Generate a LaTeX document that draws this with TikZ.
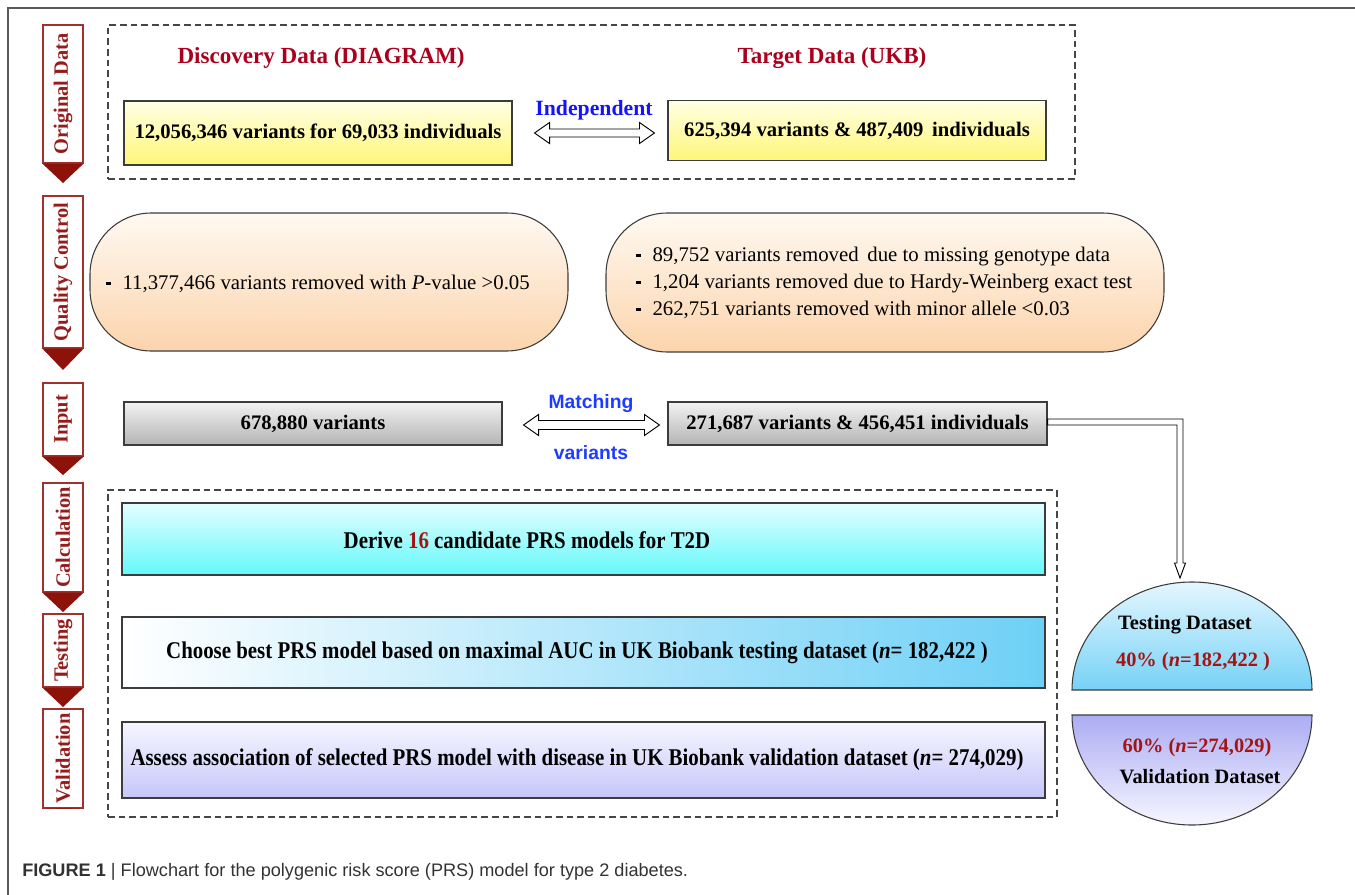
\documentclass[tikz,border=0pt]{standalone}
\usepackage{fontspec}
\setmainfont{Liberation Serif}
\newfontfamily\condfont{Liberation Serif}[FakeStretch=0.87]
\newfontfamily\capfont{Liberation Sans}
\newfontfamily\sanbold{Liberation Sans}
\usetikzlibrary{calc}
\definecolor{hdred}{RGB}{170,0,30}
\definecolor{sidered}{RGB}{140,18,10}
\definecolor{sideedge}{RGB}{160,50,45}
\definecolor{sidetxt}{RGB}{150,28,28}
\definecolor{indblue}{RGB}{20,20,250}
\definecolor{matchblue}{RGB}{30,60,255}
\definecolor{numred}{RGB}{165,20,20}
\definecolor{framegray}{RGB}{90,90,90}
\definecolor{dashgray}{RGB}{70,70,70}
\definecolor{boxedge}{RGB}{60,60,60}
\definecolor{yellowtop}{RGB}{255,255,228}
\definecolor{yellowbot}{RGB}{255,246,120}
\definecolor{greytop}{RGB}{242,242,242}
\definecolor{greybot}{RGB}{180,180,180}
\definecolor{ovaltop}{RGB}{255,249,242}
\definecolor{ovalbot}{RGB}{252,212,172}
\definecolor{cyantop}{RGB}{228,255,255}
\definecolor{cyanbot}{RGB}{100,248,250}
\definecolor{testblue}{RGB}{110,208,246}
\definecolor{valtop}{RGB}{246,246,255}
\definecolor{valbot}{RGB}{198,198,250}
\definecolor{semitop}{RGB}{228,246,255}
\definecolor{semibot}{RGB}{118,210,246}
\definecolor{vsemitop}{RGB}{172,172,244}
\definecolor{vsemibot}{RGB}{246,246,255}
\definecolor{capgray}{RGB}{50,50,50}
\tikzset{
  sidebox/.style={draw=sideedge, line width=0.9pt, fill=white, minimum width=30pt, inner sep=0pt},
  sidetext/.style={text=sidetxt, font=\bfseries\fontsize{15.3}{18}\selectfont, inner sep=0pt},
  heading/.style={text=hdred, font=\bfseries\fontsize{17.3}{20}\selectfont, inner sep=0pt},
  ybox/.style={draw=boxedge, line width=0.8pt, top color=yellowtop, bottom color=yellowbot, font=\bfseries\fontsize{15.5}{18}\selectfont, inner sep=0pt},
  gbox/.style={draw=boxedge, line width=0.8pt, top color=greytop, bottom color=greybot, font=\bfseries\fontsize{15.5}{18}\selectfont, inner sep=0pt},
  ovalbox/.style={draw=boxedge, line width=0.8pt, rounded corners=46pt, top color=ovaltop, bottom color=ovalbot, inner sep=0pt},
  ovaltext/.style={font=\fontsize{15.6}{20.25}\selectfont, align=left, inner sep=0pt},
  widebox/.style={draw=boxedge, line width=0.8pt, inner sep=0pt},
  widetext/.style={font=\condfont\bfseries\fontsize{18}{20}\selectfont, inner sep=0pt},
  dashbox/.style={draw=dashgray, line width=1.1pt, dash pattern=on 5pt off 3pt},
  hollow/.style={draw=black, line width=0.7pt, fill=white, line join=miter},
  semitext/.style={font=\bfseries\fontsize{15.3}{18}\selectfont, inner sep=0pt},
  bluelab/.style={text=indblue, font=\bfseries\fontsize{16.3}{18}\selectfont, inner sep=0pt},
  matchlab/.style={text=matchblue, font=\sanbold\bfseries\fontsize{14.5}{17}\selectfont, inner sep=0pt},
}
\newcommand{\sidestep}[5]{%
  \node[sidebox, minimum height={(#4-#3)*0.75pt}] (#1) at (63,{(#3+#4)/2}) {};
  \node[sidetext, rotate=90] (#1t) at (#1.center) {#2};
  \fill[sidered] (#1.south west) -- (#1.south east) -- (63,#5) -- cycle;}
\newcommand{\hollowdbl}[3]{% left tip, right tip, shaft half width
  \draw[hollow] (#1) -- ++(15,-10.5) -- ++(0,{10.5-#3}) -- ($(#2)+(-15,-#3)$) -- ++(0,{#3-10.5}) -- (#2)
     -- ++(-15,10.5) -- ++(0,{#3-10.5}) -- ($(#1)+(15,#3)$) -- ++(0,{10.5-#3}) -- cycle;}
\newcommand{\blt}{\rule[0.22em]{3.2pt}{2.4pt}}
\begin{document}
\begin{tikzpicture}[x=0.75pt,y=-0.75pt]
\useasboundingbox (0,0) rectangle (1355,895);
\draw[framegray, line width=0.8pt] (8,900) -- (8,8) -- (1360,8);

% sidebar
\sidestep{sOrig}{Original Data}{25}{163}{183}
\sidestep{sQC}{Quality Control}{196}{348}{370}
\sidestep{sIn}{Input}{383}{456}{475}
\sidestep{sCalc}{Calculation}{483}{592}{612}
\sidestep{sTest}{Testing}{614}{687}{707}
\sidestep{sVal}{Validation}{709}{808}{808}

% original data
\node[dashbox, minimum width={967*0.75pt}, minimum height={154*0.75pt}, inner sep=0pt] (dtop) at (591.5,102) {};
\node[heading] (hDisc) at (321,58) {Discovery Data (DIAGRAM)};
\node[heading] (hTarg) at (832,58) {Target Data (UKB)};
\node[ybox, minimum width={388*0.75pt}, minimum height={64*0.75pt}] (yl) at (318,133) {12,056,346 variants for 69,033 individuals};
\node[ybox, minimum width={378*0.75pt}, minimum height={60*0.75pt}] (yr) at (857,130.5) {625,394 variants \& 487,409\, individuals};
\node[bluelab] (lInd) at (594,110) {Independent};
\coordinate (indL) at ($(yl.east)+(22,0)$);
\coordinate (indR) at ($(indL -| yr.west)+(-13,0)$);
\hollowdbl{indL}{indR}{4}

% quality control
\node[ovalbox, minimum width={478*0.75pt}, minimum height={138*0.75pt}] (qcL) at (329,282) {};
\node[ovaltext, anchor=west] (qcLt) at (106,284) {\begin{tabular}{@{}l@{\hspace{9pt}}l@{}}\blt & 11,377,466 variants removed with \textit{P}-value >0.05\end{tabular}};
\node[ovalbox, minimum width={558*0.75pt}, minimum height={139*0.75pt}] (qcR) at (885,282.5) {};
\node[ovaltext, anchor=west] (qcRt) at (636,283) {\begin{tabular}{@{}l@{\hspace{9pt}}l@{}}\blt & 89,752 variants removed\, due to missing genotype data\\ \blt & 1,204 variants removed due to Hardy-Weinberg exact test\\ \blt & 262,751 variants removed with minor allele <0.03\end{tabular}};

% input
\node[gbox, minimum width={378*0.75pt}, minimum height={43*0.75pt}] (gl) at (313,423.5) {678,880 variants};
\node[gbox, minimum width={379*0.75pt}, minimum height={43*0.75pt}] (gr) at (857.5,423.5) {271,687 variants \& 456,451 individuals};
\node[matchlab] (lMatch) at (591,404) {Matching};
\node[matchlab] (lVar) at (591,453) {variants};
\coordinate (mL) at ($(gl.east)+(21,1.5)$);
\coordinate (mR) at ($(mL -| gr.west)+(-8,0)$);
\hollowdbl{mL}{mR}{4.5}

% calculation / testing / validation
\node[dashbox, minimum width={949*0.75pt}, minimum height={327*0.75pt}, inner sep=0pt] (dcalc) at (582.5,653.5) {};
\node[widebox, top color=cyantop, bottom color=cyanbot, minimum width={923*0.75pt}, minimum height={72*0.75pt}] (calc) at (583.5,539) {};
\node[widetext] (calct) at (527,540) {Derive {\color{numred}16} candidate PRS models for T2D};
\node[widebox, left color=white, right color=testblue, minimum width={923*0.75pt}, minimum height={71*0.75pt}] (test) at (583.5,652.5) {};
\node[widetext] (testt) at (577,653) {Choose best PRS model based on maximal AUC in UK Biobank testing dataset (\textit{n}= 182,422 )};
\node[widebox, top color=valtop, bottom color=valbot, minimum width={923*0.75pt}, minimum height={76*0.75pt}] (val) at (583.5,760) {};
\node[widetext] (valt) at (577,760) {Assess association of selected PRS model with disease in UK Biobank validation dataset (\textit{n}= 274,029)};

% semicircles
\path[draw=boxedge, line width=0.8pt, top color=semitop, bottom color=semibot] (1072,690) arc[start angle=180, end angle=360, x radius=120, y radius=108] -- cycle;
\coordinate (semiTop) at (1192,582);
\node[semitext] (sT1) at (1185,625) {Testing Dataset};
\node[semitext, text=numred] (sT2) at (1193,662) {40\% (\textit{n}=182,422 )};
\path[draw=boxedge, line width=0.8pt, top color=vsemitop, bottom color=vsemibot] (1072,715) arc[start angle=180, end angle=0, x radius=120, y radius=110] -- cycle;
\node[semitext, text=numred] (sV1) at (1197,748) {60\% (\textit{n}=274,029)};
\node[semitext] (sV2) at (1200,777) {Validation Dataset};

% L connector from the input box to the testing dataset
\coordinate (cA) at ($(gr.east)+(0,-4.5)$);
\coordinate (cTip) at ($(semiTop)+(-12,-4)$);
\draw[hollow] (cA) -- ($(cA -| cTip)+(3,0)$) -- ($(cTip)+(3,-15)$) -- ($(cTip)+(5.5,-15)$) -- (cTip)
   -- ($(cTip)+(-5.5,-15)$) -- ($(cTip)+(-3,-15)$) -- ($(cA -| cTip)+(-3,6)$) -- ($(cA)+(0,6)$) -- cycle;

% caption
\node[anchor=west, inner sep=0pt, text=capgray, font=\capfont\fontsize{13.6}{15}\selectfont] (cap) at (22,872) {\textbf{FIGURE 1} | Flowchart for the polygenic risk score (PRS) model for type 2 diabetes.};
\end{tikzpicture}
\end{document}
